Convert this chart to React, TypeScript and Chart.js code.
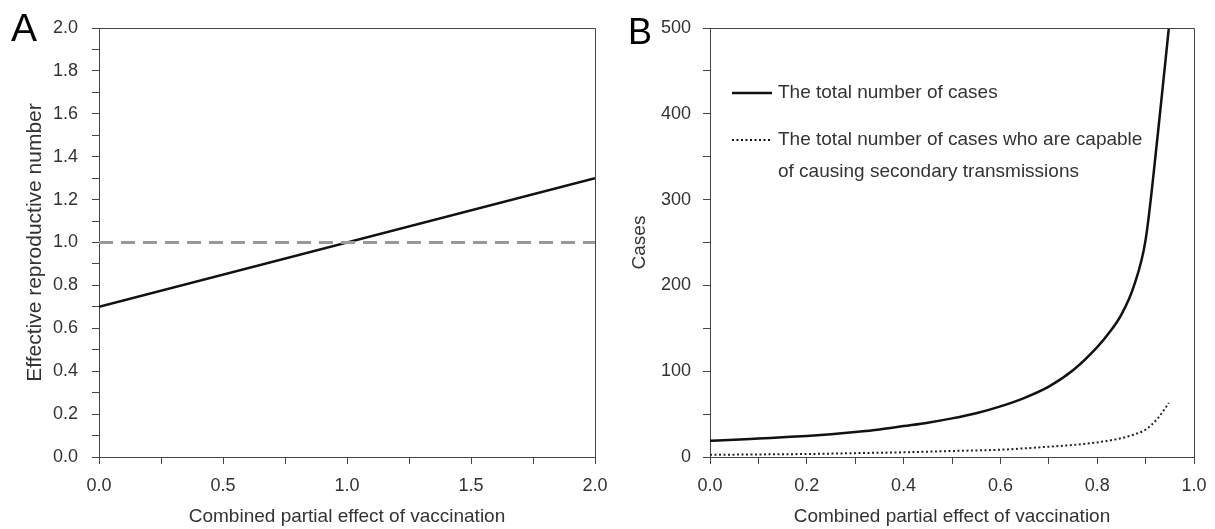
import React, { useEffect, useRef } from "react";
import { Chart, registerables } from "chart.js";

Chart.register(...registerables);

// ---- Panel A data ----
const effectA = [0, 2];
const reproductiveNumber = [0.7, 1.3];
const thresholdX = [0, 2];
const thresholdY = [1, 1];

// ---- Panel B data ----
const effectTotal = [0, 0.05, 0.1, 0.15, 0.2, 0.25, 0.3, 0.35, 0.4, 0.45, 0.5, 0.55, 0.6, 0.65, 0.7, 0.75, 0.8, 0.825, 0.85, 0.875, 0.9, 0.925, 0.948];
const totalCases = [19, 20, 21.5, 23, 24.5, 26.5, 29, 32, 36, 40, 45, 51, 59, 69, 82, 101, 128, 145, 166, 198, 253, 375, 500];
const effectSecondary = [0, 0.1, 0.2, 0.3, 0.4, 0.5, 0.6, 0.7, 0.75, 0.8, 0.85, 0.875, 0.9, 0.925, 0.948];
const secondaryCases = [2.5, 3, 3.5, 4.5, 5.5, 7, 8.5, 12, 14, 17, 22, 26, 32, 45, 63];

const xTitle = "Combined partial effect of vaccination";
const yTitleA = "Effective reproductive number";
const yTitleB = "Cases";
const legendTotal = "The total number of cases";
const legendSecondary = ["The total number of cases who are capable", "of causing secondary transmissions"];

const FONT = "'Liberation Sans', Arial, sans-serif";
const TEXT = "#333";
const AXIS = "#444";
const CANVAS_B_LEFT = 612;

const pts = (xs: number[], ys: number[]) => xs.map((x, i) => ({ x, y: ys[i] }));

const framePlugin = {
  id: "frame",
  afterDraw(chart: any) {
    const { ctx, chartArea: a } = chart;
    ctx.save();
    ctx.strokeStyle = AXIS;
    ctx.lineWidth = 1;
    ctx.beginPath();
    ctx.moveTo(a.left, a.top + 0.5);
    ctx.lineTo(a.right + 0.5, a.top + 0.5);
    ctx.lineTo(a.right + 0.5, a.bottom);
    ctx.stroke();
    ctx.restore();
  },
};

const legendPlugin = {
  id: "customLegend",
  afterDraw(chart: any) {
    const { ctx } = chart;
    const x0 = 732 - CANVAS_B_LEFT;
    const x1 = 772 - CANVAS_B_LEFT;
    const tx = 778 - CANVAS_B_LEFT;
    ctx.save();
    ctx.font = `19px ${FONT}`;
    ctx.fillStyle = TEXT;
    ctx.textBaseline = "middle";
    ctx.strokeStyle = "#111";
    ctx.lineWidth = 2.5;
    ctx.beginPath();
    ctx.moveTo(x0, 93);
    ctx.lineTo(x1, 93);
    ctx.stroke();
    ctx.fillText(legendTotal, tx, 93);
    ctx.lineWidth = 2;
    ctx.setLineDash([2, 2.5]);
    ctx.beginPath();
    ctx.moveTo(x0, 140);
    ctx.lineTo(x1, 140);
    ctx.stroke();
    ctx.setLineDash([]);
    ctx.fillText(legendSecondary[0], tx, 140);
    ctx.fillText(legendSecondary[1], tx, 172);
    ctx.restore();
  },
};

function axisCommon(min: number, max: number, step: number, labelEvery: number, decimals: number, padding: number) {
  return {
    type: "linear",
    min,
    max,
    grid: { drawOnChartArea: false, drawTicks: true, tickLength: 7, color: AXIS, tickWidth: 1 },
    border: { display: true, color: AXIS, width: 1 },
    ticks: {
      stepSize: step,
      autoSkip: false,
      padding,
      color: TEXT,
      font: { family: FONT, size: 18 },
      callback: (v: number) => {
        const k = Math.round(v / step);
        return k % labelEvery === 0 ? Number(v).toFixed(decimals) : "";
      },
    },
  };
}

const fitX = (s: any) => {
  s.height = 72;
  s.paddingLeft = 0;
  s.paddingRight = 0;
};

function PanelA() {
  const ref = useRef<HTMLCanvasElement>(null);
  useEffect(() => {
    const chart = new Chart(ref.current!, {
      type: "line",
      data: {
        datasets: [
          {
            data: pts(thresholdX, thresholdY),
            borderColor: "#999",
            borderWidth: 3,
            borderDash: [14, 8],
            pointRadius: 0,
          },
          {
            data: pts(effectA, reproductiveNumber),
            borderColor: "#111",
            borderWidth: 2.5,
            pointRadius: 0,
          },
        ],
      },
      options: {
        animation: false,
        responsive: false,
        layout: { padding: { left: 19, top: 28, right: 17, bottom: 0 } },
        plugins: { legend: { display: false }, tooltip: { enabled: false } },
        scales: {
          x: {
            ...axisCommon(0, 2, 0.25, 2, 1, 11),
            title: { display: true, text: xTitle, color: TEXT, font: { family: FONT, size: 19 }, padding: { top: 2, bottom: 1 } },
            afterFit: fitX,
          },
          y: {
            ...axisCommon(0, 2, 0.1, 2, 1, 14),
            title: { display: true, text: yTitleA, color: TEXT, font: { family: FONT, size: 21 }, padding: 4 },
            afterFit: (s: any) => { s.width = 80; },
          },
        },
      } as any,
      plugins: [framePlugin],
    });
    return () => chart.destroy();
  }, []);
  return <canvas ref={ref} width={CANVAS_B_LEFT} height={529} style={{ position: "absolute", left: 0, top: 0 }} />;
}

function PanelB() {
  const ref = useRef<HTMLCanvasElement>(null);
  useEffect(() => {
    const chart = new Chart(ref.current!, {
      type: "line",
      data: {
        datasets: [
          {
            data: pts(effectTotal, totalCases),
            borderColor: "#111",
            borderWidth: 2.5,
            pointRadius: 0,
            cubicInterpolationMode: "monotone",
          },
          {
            data: pts(effectSecondary, secondaryCases),
            borderColor: "#222",
            borderWidth: 2,
            borderDash: [2, 2.5],
            pointRadius: 0,
            cubicInterpolationMode: "monotone",
          },
        ],
      },
      options: {
        animation: false,
        responsive: false,
        layout: { padding: { left: 12, top: 28, right: 21, bottom: 0 } },
        plugins: { legend: { display: false }, tooltip: { enabled: false } },
        scales: {
          x: {
            ...axisCommon(0, 1, 0.1, 2, 1, 11),
            title: { display: true, text: xTitle, color: TEXT, font: { family: FONT, size: 19 }, padding: { top: 2, bottom: 1 } },
            afterFit: fitX,
          },
          y: {
            ...axisCommon(0, 500, 50, 2, 0, 12),
            title: { display: true, text: yTitleB, color: TEXT, font: { family: FONT, size: 19 }, padding: 4 },
            afterFit: (s: any) => { s.width = 86; },
          },
        },
      } as any,
      plugins: [framePlugin, legendPlugin],
    });
    return () => chart.destroy();
  }, []);
  return <canvas ref={ref} width={1215 - CANVAS_B_LEFT} height={529} style={{ position: "absolute", left: CANVAS_B_LEFT, top: 0 }} />;
}

export default function App() {
  const letter: React.CSSProperties = {
    position: "absolute",
    fontFamily: FONT,
    lineHeight: 1,
    color: "#000",
  };
  return (
    <div style={{ position: "fixed", left: 0, top: 0, width: 1215, height: 529, background: "#fff" }}>
      <PanelA />
      <PanelB />
      <div style={{ ...letter, left: 11, top: 8, fontSize: 39 }}>A</div>
      <div style={{ ...letter, left: 628, top: 14, fontSize: 36 }}>B</div>
    </div>
  );
}
